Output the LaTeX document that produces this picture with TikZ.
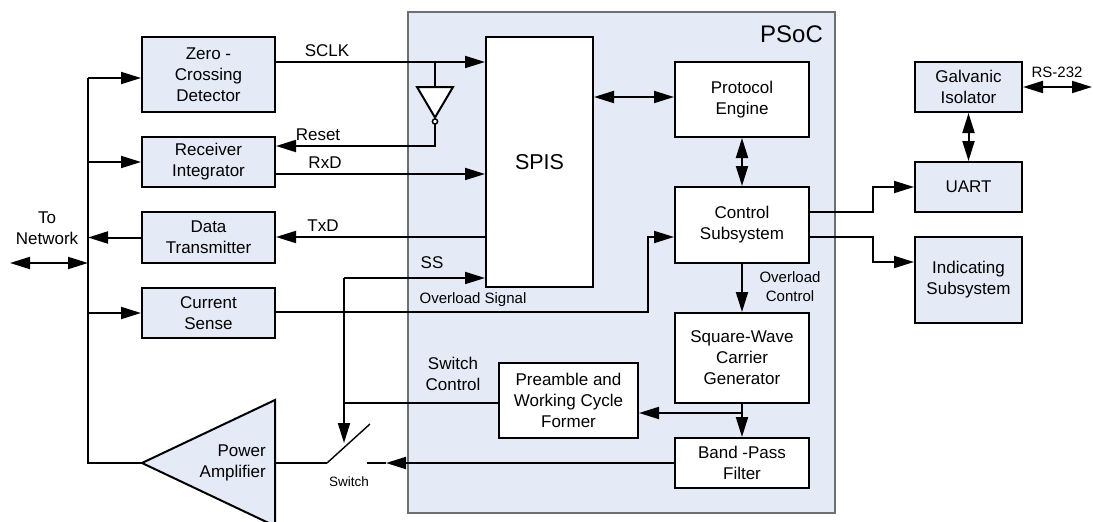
\documentclass[tikz,border=0pt]{standalone}
\usepackage{fontspec}
\setmainfont{Liberation Sans}
\usetikzlibrary{arrows.meta}
\definecolor{boxblue}{HTML}{E4EBF6}
\definecolor{psocgray}{HTML}{6F6F6F}
\tikzset{
  box/.style={draw=black, line width=2pt, fill=boxblue, align=center, inner sep=0pt,
    font=\fontsize{17}{21}\selectfont},
  wbox/.style={box, fill=white},
  arr/.style={line width=2pt, -{Triangle[length=20pt,width=12pt]}},
  darr/.style={line width=2pt, {Triangle[length=20pt,width=12pt]}-{Triangle[length=20pt,width=12pt]}},
  ln/.style={line width=2pt},
  lbl/.style={font=\fontsize{17}{21}\selectfont, inner sep=0pt, align=center},
  slbl/.style={font=\fontsize{15}{19}\selectfont, inner sep=0pt, align=center},
}
\begin{document}
\begin{tikzpicture}[x=1pt,y=-1pt]
\useasboundingbox (0,0) rectangle (1093,522);
% PSoC
\node[draw=psocgray, line width=1.2pt, fill=boxblue, minimum width=427pt, minimum height=501pt, inner sep=0pt] (psoc) at (621.5,262.5) {};
\node[font=\fontsize{24}{28}\selectfont, inner sep=0pt, anchor=base] (psoclbl) at (791.5,42) {PSoC};
% inner boxes
\node[wbox, minimum width=107pt, minimum height=250pt, font=\fontsize{21.5}{25}\selectfont] (spis) at (539.5,162) {SPIS};
\node[wbox, minimum width=134pt, minimum height=75pt] (prot) at (742,99.5) {Protocol\\Engine};
\node[wbox, minimum width=134pt, minimum height=76pt] (ctrl) at (742,225) {Control\\Subsystem};
\node[wbox, minimum width=134pt, minimum height=90pt] (sqw) at (742,358) {Square-Wave\\Carrier\\Generator};
\node[wbox, minimum width=139pt, minimum height=75pt] (pre) at (568.5,400.5) {Preamble and\\Working Cycle\\Former};
\node[wbox, minimum width=134pt, minimum height=50pt] (bpf) at (742,463) {Band -Pass\\Filter};
% left boxes
\node[box, minimum width=133pt, minimum height=75pt] (zcd) at (208.5,74.5) {Zero -\\Crossing\\Detector};
\node[box, minimum width=133pt, minimum height=50pt] (rec) at (208.5,162) {Receiver\\Integrator};
\node[box, minimum width=133pt, minimum height=51pt] (dtx) at (208.5,237.5) {Data\\Transmitter};
\node[box, minimum width=133pt, minimum height=50pt] (cur) at (208.5,313) {Current\\Sense};
% right boxes
\node[box, minimum width=107pt, minimum height=50pt] (gal) at (968.5,87) {Galvanic\\Isolator};
\node[box, minimum width=107pt, minimum height=50pt] (uart) at (968.5,187) {UART};
\node[box, minimum width=107pt, minimum height=86pt] (ind) at (968.5,280) {Indicating\\Subsystem};
% power amplifier
\draw[ln, fill=boxblue] (142,463) -- (275,400) -- (275,526) -- cycle;
\coordinate (paapex) at (142,463);
\coordinate (paout) at (275,463);
\node[lbl, align=right, anchor=east] (palbl) at (266,463) {Power\\Amplifier};
% bus
\coordinate (bustop) at (88,78);
\coordinate (busbot) at (88,463);
\draw[ln] (bustop) -- (busbot) -- (paapex);
\draw[arr] (bustop) -- (zcd.west |- bustop);
\draw[arr] (88,162) -- (rec.west);
\draw[arr] (88,313) -- (cur.west);
\draw[arr] (dtx.west) -- (88,237.5);
\coordinate (netL) at (10,263);
\coordinate (netR) at (88,263);
\draw[darr] (netL) -- (netR);
\node[lbl] (netlbl) at (47,228) {To\\Network};
% SCLK and inverter
\coordinate (sclkj) at (435,62);
\draw[arr] (zcd.east |- sclkj) -- (spis.west |- sclkj);
\node[lbl] (sclk) at (327,51) {SCLK};
\draw[ln] (sclkj) -- (435,87);
\draw[ln, fill=white] (417,87) -- (453,87) -- (435,117.5) -- cycle;
\draw[line width=1.5pt, fill=white] (435,121.5) circle (2.6pt);
\coordinate (invout) at (435,124);
\draw[arr] (invout) -- (435,146) -- (rec.east |- 0,146);
\node[lbl] (reset) at (318,135) {Reset};
% RxD, TxD
\draw[arr] (rec.east |- 0,174) -- (spis.west |- 0,174);
\node[lbl] (rxd) at (325,163) {RxD};
\draw[arr] (spis.west |- 0,237) -- (dtx.east |- 0,237);
\node[lbl] (txd) at (323,226) {TxD};
% SS and switch control
\coordinate (ssj) at (344,278);
\coordinate (swj) at (344,403);
\coordinate (swarr) at (344,443);
\draw[arr] (ssj) -- (spis.west |- ssj);
\node[lbl] (ss) at (432,263) {SS};
\draw[ln] (pre.west |- swj) -- (swj);
\draw[arr] (ssj) -- (swarr);
\node[lbl] (swctl) at (453,374) {Switch\\Control};
% overload signal
\coordinate (ovl) at (648,312);
\draw[arr] (cur.east |- ovl) -- (ovl) |- (ctrl.west |- 0,237);
\node[slbl] (ovlbl) at (473,300) {Overload Signal};
% switch
\coordinate (swa) at (327,463);
\coordinate (swb) at (370,424);
\coordinate (swc) at (367,463);
\coordinate (swtip) at (386,463);
\draw[ln] (paout) -- (swa);
\draw[line width=1.4pt] (swa) -- (swb);
\draw[ln] (swc) -- (swtip);
\draw[arr] (bpf.west) -- (swtip);
\node[font=\fontsize{13.5}{16}\selectfont, inner sep=0pt] (swlbl) at (349,482) {Switch};
% internal PSoC connections
\draw[darr] (spis.east |- 0,97) -- (prot.west |- 0,97);
\draw[darr] (prot.south) -- (ctrl.north);
\draw[arr] (ctrl.south) -- (sqw.north);
\node[slbl] (ovctl) at (790,287) {Overload\\Control};
\coordinate (sqj) at (742,413);
\draw[arr] (sqw.south) -- (bpf.north);
\draw[arr] (sqj) -- (pre.east |- sqj);
% right side
\coordinate (uj) at (873,212);
\coordinate (ij) at (873,237);
\draw[arr] (ctrl.east |- uj) -- (uj) |- (uart.west);
\draw[arr] (ctrl.east |- ij) -- (ij) |- (ind.west |- 0,262);
\draw[darr] (gal.south) -- (uart.north);
\coordinate (rsend) at (1092,87);
\draw[darr] (gal.east) -- (rsend);
\node[slbl] (rs) at (1057,72) {RS-232};
\end{tikzpicture}
\end{document}
